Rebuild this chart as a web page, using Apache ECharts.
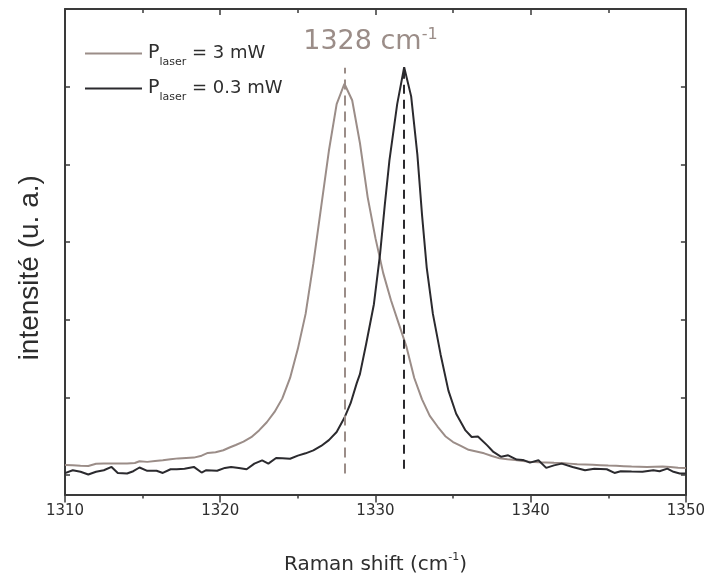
<!DOCTYPE html>
<html>
<head>
<meta charset="utf-8">
<script src="https://cdn.jsdelivr.net/npm/echarts@6/dist/echarts.min.js"></script>
<style>html,body{margin:0;padding:0;background:#fff}#c{width:708px;height:580px}</style>
</head>
<body>
<div id="c"></div>
<script>
// Raman shift (cm-1) and intensity (a.u.) for P_laser = 3 mW
var grayX = [1310.0,1310.5,1311.0,1311.5,1312.0,1312.5,1313.0,1313.5,1314.0,1314.5,1314.8,1315.3,1315.8,1316.3,1316.8,1317.3,1317.8,1318.3,1318.8,1319.2,1319.7,1320.2,1320.6,1321.0,1321.5,1322.0,1322.5,1323.0,1323.5,1324.0,1324.5,1325.0,1325.5,1326.0,1326.5,1327.0,1327.5,1328.0,1328.5,1329.0,1329.5,1330.0,1330.5,1331.0,1331.5,1332.0,1332.5,1333.0,1333.5,1334.0,1334.5,1335.0,1335.5,1336.0,1336.5,1337.0,1337.5,1338.0,1338.5,1339.0,1339.5,1340.0,1340.5,1341.0,1341.5,1342.0,1342.5,1343.0,1343.5,1344.0,1344.5,1345.0,1345.5,1346.0,1346.5,1347.0,1347.5,1348.0,1348.5,1349.0,1349.5,1350.0];
var grayY = [1.52,1.50,1.48,1.47,1.58,1.59,1.59,1.60,1.60,1.62,1.71,1.68,1.73,1.76,1.82,1.86,1.88,1.90,2.00,2.14,2.18,2.28,2.42,2.55,2.72,2.95,3.30,3.72,4.25,4.95,6.00,7.50,9.30,11.90,14.80,17.70,20.10,21.15,20.30,18.10,15.30,13.20,11.40,10.00,8.80,7.60,6.00,4.90,4.05,3.50,3.00,2.70,2.50,2.30,2.21,2.12,1.98,1.86,1.81,1.78,1.72,1.68,1.66,1.65,1.63,1.62,1.59,1.56,1.55,1.53,1.51,1.49,1.48,1.46,1.44,1.43,1.42,1.43,1.44,1.41,1.38,1.37];
// P_laser = 0.3 mW
var blackX = [1310.0,1310.5,1311.0,1311.5,1312.0,1312.5,1313.0,1313.4,1314.0,1314.4,1314.8,1315.3,1315.9,1316.3,1316.8,1317.2,1317.7,1318.3,1318.8,1319.1,1319.8,1320.3,1320.7,1321.2,1321.7,1322.2,1322.7,1323.1,1323.6,1324.0,1324.5,1325.0,1325.5,1326.0,1326.5,1327.0,1327.5,1328.0,1328.4,1328.8,1329.0,1329.4,1329.9,1330.3,1330.6,1330.9,1331.4,1331.85,1332.3,1332.7,1333.0,1333.3,1333.7,1334.2,1334.7,1335.2,1335.8,1336.2,1336.6,1337.2,1337.6,1338.1,1338.55,1339.1,1339.5,1339.95,1340.5,1341.0,1341.5,1342.0,1342.7,1343.5,1344.1,1344.9,1345.4,1345.8,1346.5,1347.2,1347.9,1348.3,1348.8,1349.2,1349.6,1350.0];
var blackY = [1.10,1.25,1.17,1.03,1.17,1.25,1.42,1.11,1.08,1.20,1.39,1.22,1.22,1.11,1.30,1.30,1.33,1.42,1.13,1.25,1.22,1.37,1.42,1.37,1.30,1.59,1.76,1.59,1.88,1.87,1.84,2.00,2.12,2.27,2.50,2.80,3.22,3.95,4.70,5.75,6.20,7.75,9.80,12.40,14.90,17.20,20.10,22.00,20.50,17.50,14.40,11.70,9.30,7.20,5.35,4.16,3.30,2.96,2.99,2.53,2.19,1.94,2.02,1.80,1.78,1.64,1.76,1.37,1.50,1.59,1.42,1.25,1.33,1.30,1.11,1.20,1.18,1.17,1.25,1.20,1.33,1.17,1.08,1.08];
// axis ticks
var xTicks = [1310, 1320, 1330, 1340, 1350];
var yTickValues = [1, 5, 9, 13, 17, 21];
// peak markers
var peakX = [1328, 1331.85];
var peakBottom = [1.08, 1.33];
var peakTop = [21.97, 21.9];
var peakLabel = '1328';
var seriesNames = ['3 mW', '0.3 mW'];

var GRAY = '#9b8d88', BLACK = '#2b2a2e', AX = '#3a3a3a', TXT = '#2e2e2e';
var FONT = '"DejaVu Sans",sans-serif';

function pairs(xs, ys) { return xs.map(function (x, i) { return [x, ys[i]]; }); }

var chart = echarts.init(document.getElementById('c'), null, { renderer: 'canvas' });
var xCommon = { type: 'value', min: xTicks[0], max: xTicks[xTicks.length - 1], interval: 10, splitLine: { show: false },
  axisLine: { show: true, onZero: false, lineStyle: { color: AX, width: 2 } } };
var yCommon = { type: 'value', min: 0, max: 25, splitLine: { show: false }, axisLabel: { show: false },
  axisLine: { show: true, onZero: false, lineStyle: { color: AX, width: 2 } },
  axisTick: { show: true, inside: true, length: 5, customValues: yTickValues, lineStyle: { color: AX, width: 1.5 } } };

chart.setOption({
  animation: false,
  backgroundColor: '#fff',
  grid: { left: 65, right: 22, top: 9, bottom: 84 },
  legend: {
    orient: 'vertical', left: 80, top: 34, icon: 'rect', itemWidth: 57, itemHeight: 2, itemGap: 6,
    textStyle: { color: TXT, fontFamily: FONT, fontSize: 18,
      rich: { p: { fontSize: 19, fontFamily: FONT, color: TXT, lineHeight: 26, padding: [0, 0, 0, 1] },
              s: { fontSize: 11, fontFamily: FONT, color: TXT, padding: [18, 0, 0, 0], lineHeight: 26 },
              t: { fontSize: 18, fontFamily: FONT, color: TXT, lineHeight: 26 } } },
    formatter: function (n) { return '{p|P}{s|laser}{t| = ' + n + '}'; },
    data: seriesNames
  },
  xAxis: [
    Object.assign({}, xCommon, { position: 'bottom',
      name: '{a|Raman shift (cm}{b|-1}{a|)}', nameLocation: 'middle', nameGap: 57,
      nameTextStyle: { rich: { a: { fontSize: 20, fontFamily: FONT, color: TXT }, b: { fontSize: 11, fontFamily: FONT, color: TXT, padding: [0, 0, 16, 0] } } },
      axisTick: { inside: false, length: 8, lineStyle: { color: AX, width: 1.5 } },
      minorTick: { show: true, splitNumber: 2, length: 4, lineStyle: { color: AX, width: 1.5 } },
      axisLabel: { margin: 9, fontSize: 15, fontFamily: FONT, color: TXT, formatter: function (v) { return String(v); } } }),
    Object.assign({}, xCommon, { position: 'top',
      axisTick: { inside: true, length: 6, lineStyle: { color: AX, width: 1.5 } },
      minorTick: { show: true, splitNumber: 2, length: 4, lineStyle: { color: AX, width: 1.5 } },
      axisLabel: { show: false } })
  ],
  yAxis: [
    Object.assign({}, yCommon, { position: 'left', name: 'intensité (u. a.)', nameLocation: 'middle', nameGap: 21,
      nameTextStyle: { fontSize: 28, fontFamily: '"Liberation Sans",Arial,sans-serif', color: TXT, padding: [0, 32, 0, 0] } }),
    Object.assign({}, yCommon, { position: 'right' })
  ],
  series: [
    { name: seriesNames[0], type: 'line', data: pairs(grayX, grayY), symbol: 'none', smooth: false,
      lineStyle: { color: GRAY, width: 2 }, itemStyle: { color: GRAY }, z: 3,
      markLine: { silent: true, symbol: 'none', label: { show: false },
        lineStyle: { color: GRAY, type: [10, 6], width: 2 },
        data: [[{ coord: [peakX[0], peakBottom[0]] }, { coord: [peakX[0], peakTop[0]] }]] },
      markPoint: { silent: true, symbol: 'circle', symbolSize: 0,
        label: { show: true, position: 'inside', offset: [26, 0], color: GRAY,
          formatter: '{a|' + peakLabel + ' cm}{b|-1}',
          rich: { a: { fontSize: 27, fontFamily: FONT, color: GRAY }, b: { fontSize: 16, fontFamily: FONT, color: GRAY, padding: [0, 0, 14, 0] } } },
        data: [{ coord: [peakX[0], 23.3] }] } },
    { name: seriesNames[1], type: 'line', data: pairs(blackX, blackY), symbol: 'none', smooth: false,
      lineStyle: { color: BLACK, width: 2 }, itemStyle: { color: BLACK }, z: 4,
      markLine: { silent: true, symbol: 'none', label: { show: false },
        lineStyle: { color: BLACK, type: [9, 6], width: 2 },
        data: [[{ coord: [peakX[1], peakBottom[1]] }, { coord: [peakX[1], peakTop[1]] }]] } }
  ]
});
</script>
</body>
</html>
